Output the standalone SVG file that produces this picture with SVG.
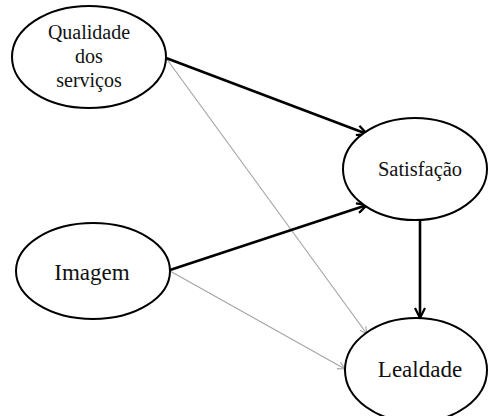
<svg xmlns="http://www.w3.org/2000/svg" width="488" height="416" viewBox="0 0 488 416">
<style>
.node ellipse{fill:#fff;stroke:#000;stroke-width:2}
text{font-family:"Liberation Serif","Times New Roman",serif;fill:#111;text-anchor:middle}
.thick{stroke:#000;stroke-width:2.6;fill:none}
.thin{stroke:#a6a6a6;stroke-width:1.2;fill:none}
</style>
<defs>
<marker id="ah" viewBox="0 0 12 12" refX="11" refY="6" markerWidth="12" markerHeight="12" markerUnits="userSpaceOnUse" orient="auto">
<path d="M1,1 L11,6 L1,11" fill="none" stroke="#000" stroke-width="2.2"/>
</marker>
<marker id="ahg" viewBox="0 0 10 10" refX="9" refY="5" markerWidth="9" markerHeight="9" markerUnits="userSpaceOnUse" orient="auto">
<path d="M1,1 L9,5 L1,9" fill="none" stroke="#a6a6a6" stroke-width="1.2"/>
</marker>
</defs>
<g id="connectors">
<line class="thin" x1="166" y1="58" x2="367" y2="334" marker-end="url(#ahg)"/>
<line class="thin" x1="170" y1="271" x2="345" y2="369" marker-end="url(#ahg)"/>
<line class="thick" x1="166" y1="58" x2="367" y2="134" marker-end="url(#ah)"/>
<line class="thick" x1="170" y1="270" x2="367" y2="205" marker-end="url(#ah)"/>
<line class="thick" x1="420" y1="220" x2="420" y2="318" marker-end="url(#ah)"/>
</g>
<g id="qualidade" class="node">
<ellipse cx="89" cy="57" rx="77" ry="51"/>
<text x="89" y="39" font-size="20">Qualidade</text>
<text x="89" y="63" font-size="20">dos</text>
<text x="89" y="87" font-size="20">serviços</text>
</g>
<g id="imagem" class="node">
<ellipse cx="93" cy="271" rx="77" ry="48"/>
<text x="92" y="280" font-size="23">Imagem</text>
</g>
<g id="satisfacao" class="node">
<ellipse cx="415" cy="169" rx="72" ry="51"/>
<text x="420" y="176" font-size="20.5">Satisfação</text>
</g>
<g id="lealdade" class="node">
<ellipse cx="416" cy="370" rx="71" ry="52"/>
<text x="420" y="377" font-size="23">Lealdade</text>
</g>
</svg>
